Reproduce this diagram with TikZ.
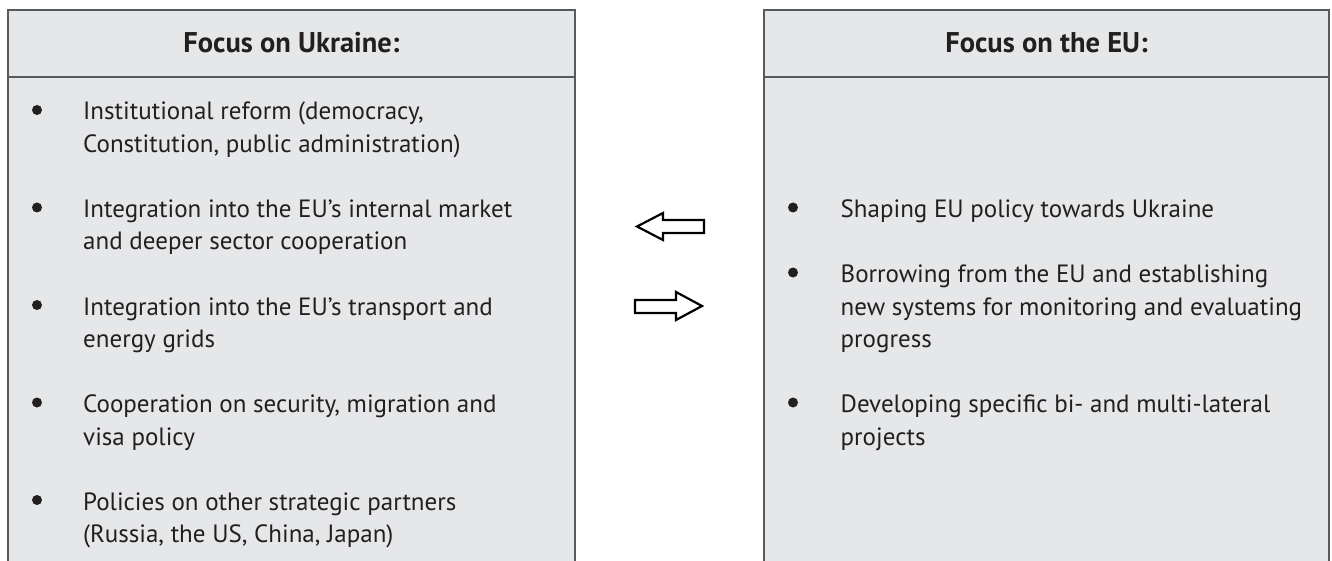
\documentclass[tikz,border=0pt]{standalone}
\usepackage{fontspec}
\setmainfont{PT Sans}
\usetikzlibrary{positioning}
\definecolor{boxfill}{RGB}{230,231,232}
\definecolor{boxline}{RGB}{88,89,91}
\definecolor{ink}{RGB}{35,31,32}

\begin{document}
\begin{tikzpicture}[x=1pt,y=-1pt,
    every node/.style={inner sep=0pt,text=ink,font=\fontsize{25}{32.5}\selectfont},
    item/.style={anchor=base west,align=left},
    dot/.style={circle,fill=ink,minimum size=10pt},
    head/.style={anchor=base,font=\fontsize{28.5}{32}\selectfont\bfseries},
    frame/.style={draw=boxline,line width=2pt},
    blockarrow/.style={draw=black,line width=2.2pt,line join=miter}]
    \useasboundingbox (0,0) rectangle (1332,561);

    % Ukraine box (item nodes sit on the baseline of their last line)
    \fill[boxfill] (8,10) rectangle (575,566);
    \draw[frame] (8,566) -- (8,10) -- (575,10) -- (575,566);
    \draw[frame] (8,77) -- (575,77);
    \node[head] (ut) at (291.5,53) {Focus on Ukraine:};

    \node[dot] (ub1) at (37,110) {};
    \node[item] (u1) at (83,152.5) {Institutional reform (democracy,\\Constitution, public administration)};
    \node[dot] (ub2) at (37,207.5) {};
    \node[item] (u2) at (83,250) {Integration into the EU’s internal market\\and deeper sector cooperation};
    \node[dot] (ub3) at (37,305) {};
    \node[item] (u3) at (83,347.5) {Integration into the EU’s transport and\\energy grids};
    \node[dot] (ub4) at (37,402.5) {};
    \node[item] (u4) at (83,445) {Cooperation on security, migration and\\visa policy};
    \node[dot] (ub5) at (37,500) {};
    \node[item] (u5) at (83,542.5) {Policies on other strategic partners\\(Russia, the US, China, Japan)};

    % EU box
    \fill[boxfill] (764,10) rectangle (1329,566);
    \draw[frame] (764,566) -- (764,10) -- (1329,10) -- (1329,566);
    \draw[frame] (764,77) -- (1329,77);
    \node[head] (et) at (1046.5,53) {Focus on the EU:};

    \node[dot] (eb1) at (793,207.5) {};
    \node[item] (e1) at (840.5,217.5) {Shaping EU policy towards Ukraine};
    \node[dot] (eb2) at (793,272.5) {};
    \node[item] (e2) at (840.5,347.5) {Borrowing from the EU and establishing\\new systems for monitoring and evaluating\\progress};
    \node[dot] (eb3) at (793,402.5) {};
    \node[item] (e3) at (840.5,445) {Developing specific bi- and multi-lateral\\projects};

    % arrows between the boxes
    \draw[blockarrow] (704,220) -- (663,220) -- (663,213) -- (637,226.5)
        -- (663,240) -- (663,233) -- (704,233) -- cycle;
    \draw[blockarrow] (635,300) -- (676,300) -- (676,292) -- (702,306)
        -- (676,320) -- (676,313) -- (635,313) -- cycle;
\end{tikzpicture}
\end{document}
